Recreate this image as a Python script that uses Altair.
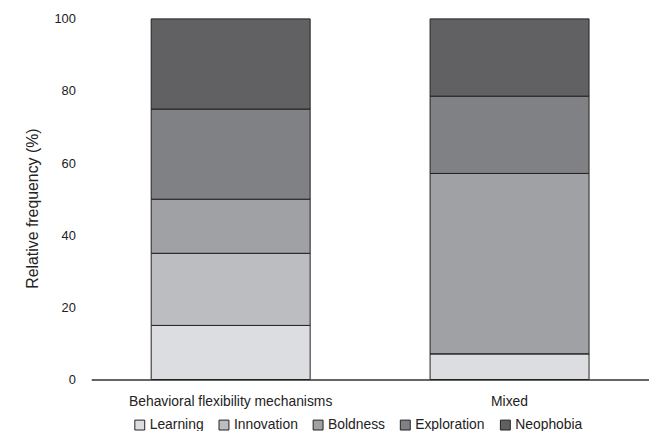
import altair as alt
import pandas as pd

groups = ["Behavioral flexibility mechanisms", "Mixed"]
categories = ["Learning", "Innovation", "Boldness", "Exploration", "Neophobia"]
values_bfm = [15.0, 20.0, 15.0, 25.0, 25.0]
values_mixed = [7.14, 0.0, 50.0, 21.43, 21.43]
colors = ["#dcdde0", "#bcbdc1", "#a0a1a5", "#808185", "#616163"]

rows = []
for g, vals in zip(groups, [values_bfm, values_mixed]):
    for i, (c, v) in enumerate(zip(categories, vals)):
        rows.append({"group": g, "category": c, "value": v, "idx": i})
df = pd.DataFrame(rows)

font = "Liberation Sans"

chart = alt.Chart(df).mark_bar(stroke="#231f20", strokeWidth=1).encode(
    x=alt.X("group:N", sort=groups, title=None,
            scale=alt.Scale(paddingInner=0.43, paddingOuter=0.215),
            axis=alt.Axis(labelAngle=0, ticks=False, labelPadding=15, labelLimit=0,
                          domainColor="#333333", domainWidth=1.5,
                          labelFont=font, labelFontSize=14, labelColor="#222222")),
    y=alt.Y("value:Q", stack="zero", title="Relative frequency (%)",
            scale=alt.Scale(domain=[0, 100], nice=False),
            axis=alt.Axis(values=[0, 20, 40, 60, 80, 100], domain=False, ticks=False,
                          grid=False, labelPadding=16, titlePadding=14, titleY=191,
                          labelFont=font, labelFontSize=13, labelColor="#222222",
                          titleFont=font, titleFontSize=16, titleFontWeight="normal",
                          titleColor="#222222")),
    color=alt.Color("category:N", sort=categories,
                    scale=alt.Scale(domain=categories, range=colors),
                    legend=alt.Legend(title=None, orient="none", direction="horizontal",
                                      legendX=42, legendY=403,
                                      symbolType="square", symbolSize=100,
                                      symbolStrokeColor="#231f20", symbolStrokeWidth=1,
                                      labelFont=font, labelFontSize=14, labelColor="#222222",
                                      labelOffset=3, columnPadding=13, labelLimit=0)),
    order=alt.Order("idx:Q", sort="ascending"),
).properties(
    width=563, height=364,
    autosize=alt.AutoSizeParams(type="none"),
    padding={"left": 84, "top": 9, "right": 0, "bottom": 50},
).configure_view(stroke=None)

chart.save("out.html", embed_options={"renderer": "svg", "actions": False})
